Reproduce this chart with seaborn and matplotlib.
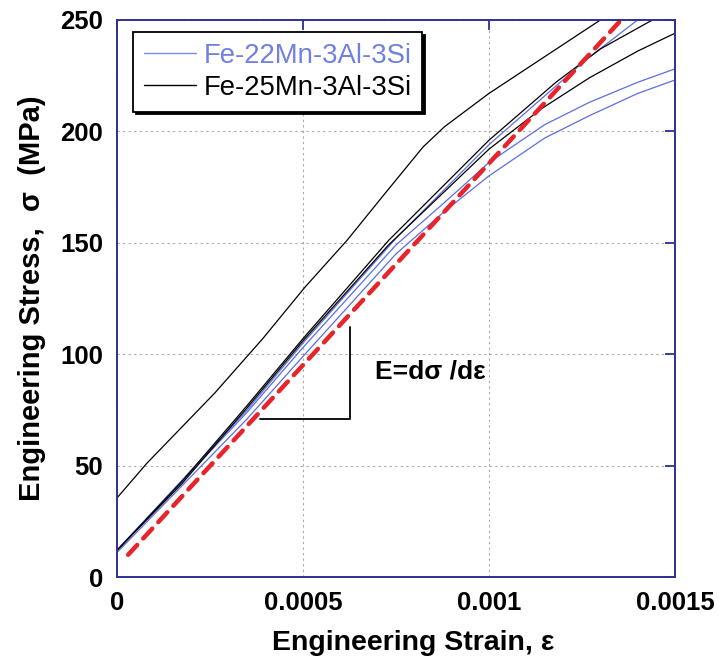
import seaborn as sns
import matplotlib.pyplot as plt
from matplotlib.lines import Line2D

# curves (strain, stress in MPa)
blk1_x = [0, 0.00008, 0.000263, 0.000392, 0.000505, 0.000618, 0.000715,
          0.000823, 0.00088, 0.00092, 0.001, 0.0011, 0.0012, 0.0013]
blk1_y = [35.5, 51, 82.6, 107, 130, 151, 171, 193, 202, 207, 217, 228, 239, 250]
blk2_x = [0, 0.000175, 0.00035, 0.0005, 0.00073, 0.001, 0.00118, 0.0013, 0.00144]
blk2_y = [12, 43, 77, 107, 151, 196, 222, 237, 250]
blk3_x = [0, 0.000175, 0.00035, 0.0005, 0.00073, 0.001, 0.00114, 0.00127, 0.0014, 0.0015]
blk3_y = [12, 42, 76, 106, 149, 192, 210, 224, 236, 244]
blu1_x = [0, 0.00035, 0.0005, 0.00075, 0.001, 0.00126, 0.0014]
blu1_y = [12, 75, 105, 152, 194, 232, 250]
blu2_x = [0, 0.00035, 0.0005, 0.00075, 0.00088, 0.001, 0.00115, 0.00127, 0.0014, 0.0015]
blu2_y = [12, 74, 103, 149, 168, 186, 203, 213, 222, 228]
blu3_x = [0, 0.00035, 0.0005, 0.00075, 0.00088, 0.001, 0.00115, 0.00127, 0.0014, 0.0015]
blu3_y = [11, 71, 99, 145, 164, 180, 197, 207, 217, 223]
fit_x = [0.00003, 0.00135]
fit_y = [10, 249]
tri_x = [0.000384, 0.000626, 0.000626]
tri_y = [70.9, 70.9, 112]

labels = ["Fe-22Mn-3Al-3Si", "Fe-25Mn-3Al-3Si"]
blue = "#5b6ee1"
navy = "#2e3192"

sns.set_theme(style="white")
plt.rcParams["font.family"] = ["Liberation Sans", "DejaVu Sans"]
plt.rcParams["text.color"] = "black"
plt.rcParams["axes.labelcolor"] = "black"
plt.rcParams["xtick.labelcolor"] = "black"
plt.rcParams["ytick.labelcolor"] = "black"

fig, ax = plt.subplots(figsize=(7.2, 6.61), dpi=100)
fig.subplots_adjust(left=0.1625, right=0.9375, bottom=0.127, top=0.970)

for xs, ys in [(blu1_x, blu1_y), (blu2_x, blu2_y), (blu3_x, blu3_y)]:
    sns.lineplot(x=xs, y=ys, ax=ax, color=blue, lw=0.9, estimator=None, sort=False)
for xs, ys in [(blk1_x, blk1_y), (blk2_x, blk2_y), (blk3_x, blk3_y)]:
    sns.lineplot(x=xs, y=ys, ax=ax, color="black", lw=0.9, estimator=None, sort=False)
sns.lineplot(x=fit_x, y=fit_y, ax=ax, color="#e8232a", lw=3.2, estimator=None, sort=False)
ax.lines[-1].set_dashes((3, 2))
ax.lines[-1].set_dash_capstyle("round")
ax.plot(tri_x, tri_y, color="black", lw=1.3)
ax.text(0.000694, 92, "E=dσ /dε", fontsize=19, fontweight="bold", va="center", ha="left")

ax.set_xlim(0, 0.0015)
ax.set_ylim(0, 250)
ax.set_xticks([0, 0.0005, 0.001, 0.0015])
ax.set_xticklabels(["0", "0.0005", "0.001", "0.0015"])
ax.set_yticks([0, 50, 100, 150, 200, 250])
ax.grid(True, color="#a8a8a8", ls=(0, (2, 3)), lw=0.8)
ax.tick_params(direction="in", length=7, width=1.3, color=navy, top=True, right=True,
               labelsize=18.5, pad=10)
for lab in ax.get_xticklabels() + ax.get_yticklabels():
    lab.set_fontweight("bold")
for s in ax.spines.values():
    s.set_color(navy)
    s.set_linewidth(1.4)

ax.set_xlabel("Engineering Strain, ε", fontsize=20.5, fontweight="bold", labelpad=10)
ax.xaxis.set_label_coords(0.53, -0.095)
ax.set_ylabel("Engineering Stress,  σ  (MPa)", fontsize=21, fontweight="bold", labelpad=10)

handles = [Line2D([], [], color="#7d8ce6", lw=1), Line2D([], [], color="black", lw=1)]
leg = ax.legend(handles, labels, loc="upper left", bbox_to_anchor=(0.029, 0.978),
                fontsize=19.8, frameon=True, fancybox=False, handlelength=1.9,
                handletextpad=0.25, labelspacing=0.2, borderpad=0.4, borderaxespad=0,
                shadow={"color": "black", "alpha": 1})
leg.get_frame().set_edgecolor("black")
leg.get_frame().set_linewidth(1.3)
leg.get_texts()[0].set_color("#7080e0")

fig.savefig("out.png", dpi=100)
